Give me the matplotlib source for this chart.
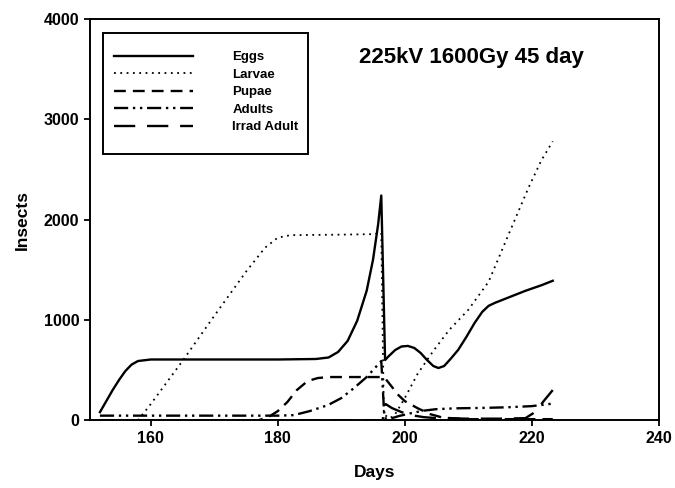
import matplotlib
matplotlib.use("Agg")
from matplotlib import pyplot as plt
from matplotlib.patches import Rectangle

plt.rcParams['font.family'] = ['Liberation Sans', 'DejaVu Sans']
plt.rcParams['font.weight'] = 'bold'

# ---- data ----
eggs_days = [152, 153, 154, 155, 156, 157, 158, 160, 170, 180, 186, 188, 189.5, 191,
             192.5, 194, 195, 195.8, 196.3, 196.9, 197.5, 198.5, 199.5, 200.5, 201.5,
             202.5, 203.5, 204.5, 205.3, 206.2, 207.2, 208.4, 209.7, 211, 212.2, 213.2,
             214.2, 215.2, 217, 219, 221.5, 223.3]
eggs = [80, 190, 300, 400, 490, 555, 590, 605, 605, 605, 610, 625, 680, 790,
        990, 1290, 1600, 1950, 2240, 600, 640, 700, 735, 740, 720,
        670, 600, 540, 520, 540, 610, 700, 830, 970, 1080, 1140,
        1170, 1195, 1240, 1290, 1345, 1390]

larvae_days = [152, 158, 160, 165, 170, 175, 178, 180, 182, 190, 195.2, 196.3, 196.7,
               197.5, 198.3, 200, 202, 204.6, 207, 210, 213.2, 216.4, 219.5, 221.5, 223.3]
larvae = [0, 0, 160, 590, 1040, 1480, 1720, 1820, 1845, 1850, 1855, 1870, 60,
          20, 40, 220, 460, 700, 900, 1100, 1380, 1860, 2320, 2590, 2780]

pupae_days = [152, 177, 178.5, 180, 181.5, 183, 184.7, 186.3, 188, 192, 196.3, 197,
              198, 199, 200, 202, 204, 206, 210, 215, 220, 223.3]
pupae = [0, 0, 30, 90, 180, 300, 390, 420, 430, 430, 430, 410,
         330, 250, 190, 120, 60, 25, 10, 10, 10, 10]

adults_days = [152, 170, 180, 182.5, 185, 187.9, 190, 192, 194, 196.3, 196.8, 197.5,
               199, 201, 203, 205, 208, 212, 216, 220, 223.3]
adults = [45, 45, 45, 50, 90, 150, 220, 320, 430, 590, 20, 10,
          40, 70, 95, 110, 118, 122, 128, 140, 165]

irrad_days = [152, 196.5, 197, 198, 199.5, 201, 203, 205, 210, 215, 219, 220.5, 222, 223.3]
irrad = [0, 0, 160, 120, 80, 50, 30, 20, 15, 15, 20, 80, 200, 300]

fig = plt.figure(figsize=(6.75, 4.88), dpi=100)
ax = fig.add_axes([0.133, 0.139, 0.843, 0.822])

ax.plot(eggs_days, eggs, color='black', lw=1.7, linestyle='-', label='Eggs')
ax.plot(larvae_days, larvae, color='black', lw=1.3, linestyle=(0, (1, 2.5)), label='Larvae')
ax.plot(pupae_days, pupae, color='black', lw=1.7, linestyle=(0, (5, 3)), label='Pupae')
ax.plot(adults_days, adults, color='black', lw=1.7,
        linestyle=(0, (6, 2, 1, 2, 1, 2)), label='Adults')
ax.plot(irrad_days, irrad, color='black', lw=1.7, linestyle=(0, (9, 5)), label='Irrad Adult')

ax.set_xlim(150.4, 240)
ax.set_ylim(0, 4000)
ax.set_xticks([160, 180, 200, 220, 240])
ax.set_yticks([0, 1000, 2000, 3000, 4000])
ax.tick_params(direction='out', length=4, width=1.3, labelsize=11.5)
for lbl in ax.get_xticklabels() + ax.get_yticklabels():
    lbl.set_fontweight('bold')
for s in ax.spines.values():
    s.set_linewidth(1.4)

ax.set_xlabel('Days', fontsize=12.5, fontweight='bold', labelpad=14)
ax.set_ylabel('Insects', fontsize=12.5, fontweight='bold', labelpad=10)

ax.text(0.67, 0.905, '225kV 1600Gy 45 day', transform=ax.transAxes,
        fontsize=16, fontweight='bold', ha='center', va='center')

# legend box drawn separately so the padding can differ from the entries
ax.add_patch(Rectangle((0.024, 0.664), 0.36, 0.302, transform=ax.transAxes,
                       fill=False, edgecolor='black', lw=1.4, zorder=5))
leg = ax.legend(loc='center left', bbox_to_anchor=(0.042, 0.818), frameon=False,
                handlelength=6.0, handletextpad=3.0, labelspacing=0.4,
                borderpad=0, borderaxespad=0, prop={'size': 9.5, 'weight': 'bold'})

fig.savefig('out.png', dpi=100)
